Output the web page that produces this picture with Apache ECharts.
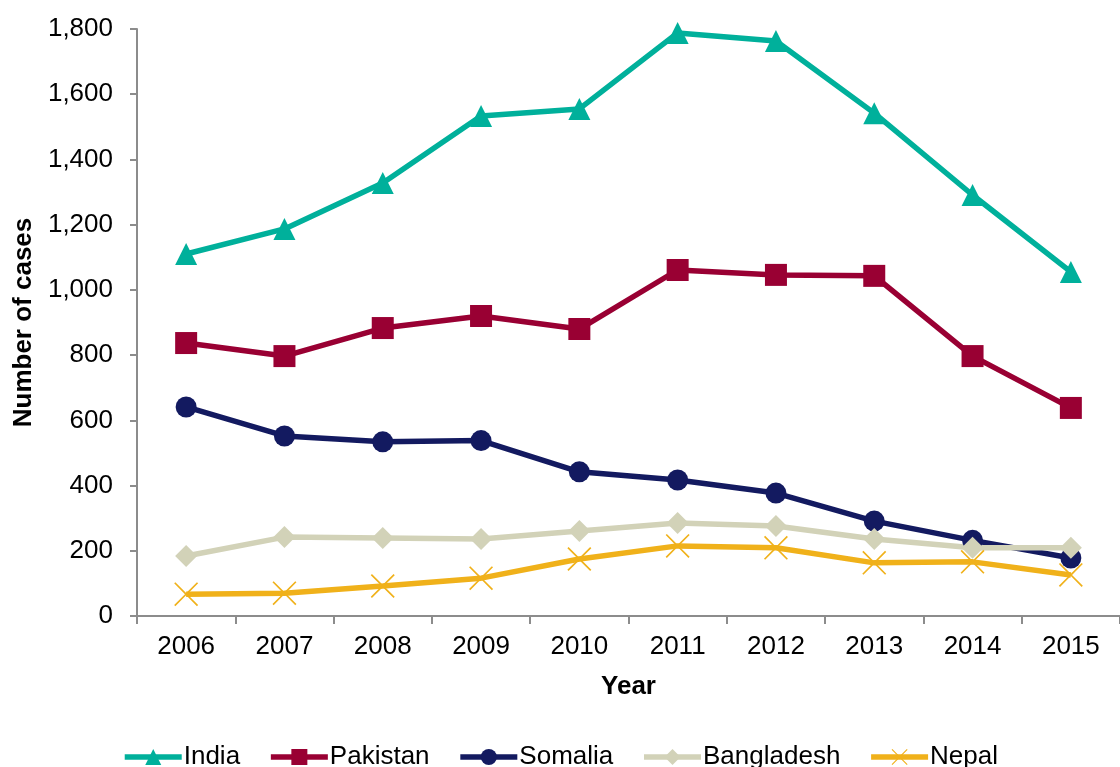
<!DOCTYPE html>
<html>
<head>
<meta charset="utf-8">
<script src="https://cdn.jsdelivr.net/npm/echarts@6/dist/echarts.min.js"></script>
<style>
  html, body { margin: 0; padding: 0; background: #fff; }
  #chart { width: 1120px; height: 767px; }
</style>
</head>
<body>
<div id="chart"></div>
<script>
const years = ["2006", "2007", "2008", "2009", "2010", "2011", "2012", "2013", "2014", "2015"];
const india = [1110, 1187, 1328, 1533, 1555, 1788, 1763, 1542, 1291, 1055];
const pakistan = [837, 797, 883, 920, 880, 1061, 1046, 1043, 797, 638];
const somalia = [641, 552, 534, 538, 442, 417, 377, 291, 232, 178];
const bangladesh = [184, 242, 239, 236, 261, 285, 276, 236, 209, 209];
const nepal = [67, 70, 92, 116, 175, 215, 209, 163, 166, 126];

// thin X marker as a filled polygon
const crossPath = "path://M0,5L5,0L50,45L95,0L100,5L55,50L100,95L95,100L50,55L5,100L0,95L45,50Z";

const font = "'Liberation Sans', Arial, sans-serif";

function makeSeries(name, data, color, symbol, size) {
  return {
    name: name,
    type: "line",
    data: data,
    symbol: symbol,
    symbolSize: size,
    showSymbol: true,
    lineStyle: { color: color, width: 5.5 },
    itemStyle: { color: color },
    emphasis: { disabled: true },
  };
}

const option = {
  animation: false,
  textStyle: { fontFamily: font },
  grid: { left: 137, top: 29, right: -6, bottom: 151, containLabel: false },
  legend: {
    bottom: -8,
    left: "center",
    itemWidth: 57,
    itemHeight: 20,
    itemGap: 28,
    lineStyle: { width: 5.5 },
    textStyle: { fontSize: 26, color: "#000", fontFamily: font, padding: [0, 0, 0, -3] },
    data: ["India", "Pakistan", "Somalia", "Bangladesh", "Nepal"],
  },
  xAxis: {
    type: "category",
    data: years,
    boundaryGap: true,
    name: "Year",
    nameLocation: "middle",
    nameGap: 58,
    nameTextStyle: { fontSize: 26, fontWeight: "bold", color: "#000", fontFamily: font },
    axisLine: { lineStyle: { color: "#8c8c8c", width: 2 } },
    axisTick: { show: true, length: 8, lineStyle: { color: "#8c8c8c", width: 2 } },
    axisLabel: { fontSize: 26, color: "#000", margin: 18, fontFamily: font },
    splitLine: { show: false },
  },
  yAxis: {
    type: "value",
    min: 0,
    max: 1800,
    interval: 200,
    name: "Number of cases",
    nameLocation: "middle",
    nameGap: 100,
    nameTextStyle: { fontSize: 26, fontWeight: "bold", color: "#000", fontFamily: font },
    axisLine: { show: true, lineStyle: { color: "#8c8c8c", width: 2 } },
    axisTick: { show: true, length: 7, lineStyle: { color: "#8c8c8c", width: 2 } },
    axisLabel: {
      fontSize: 26,
      color: "#000",
      margin: 24,
      fontFamily: font,
      formatter: (v) => v.toLocaleString("en-US"),
    },
    splitLine: { show: false },
  },
  series: [
    makeSeries("India", india, "#00B09B", "triangle", 22),
    makeSeries("Pakistan", pakistan, "#990033", "rect", 22),
    makeSeries("Somalia", somalia, "#131A60", "circle", 21),
    makeSeries("Bangladesh", bangladesh, "#D2D2B8", "diamond", 22),
    makeSeries("Nepal", nepal, "#F0B11A", crossPath, 24),
  ],
};

echarts.init(document.getElementById("chart")).setOption(option);
</script>
</body>
</html>
